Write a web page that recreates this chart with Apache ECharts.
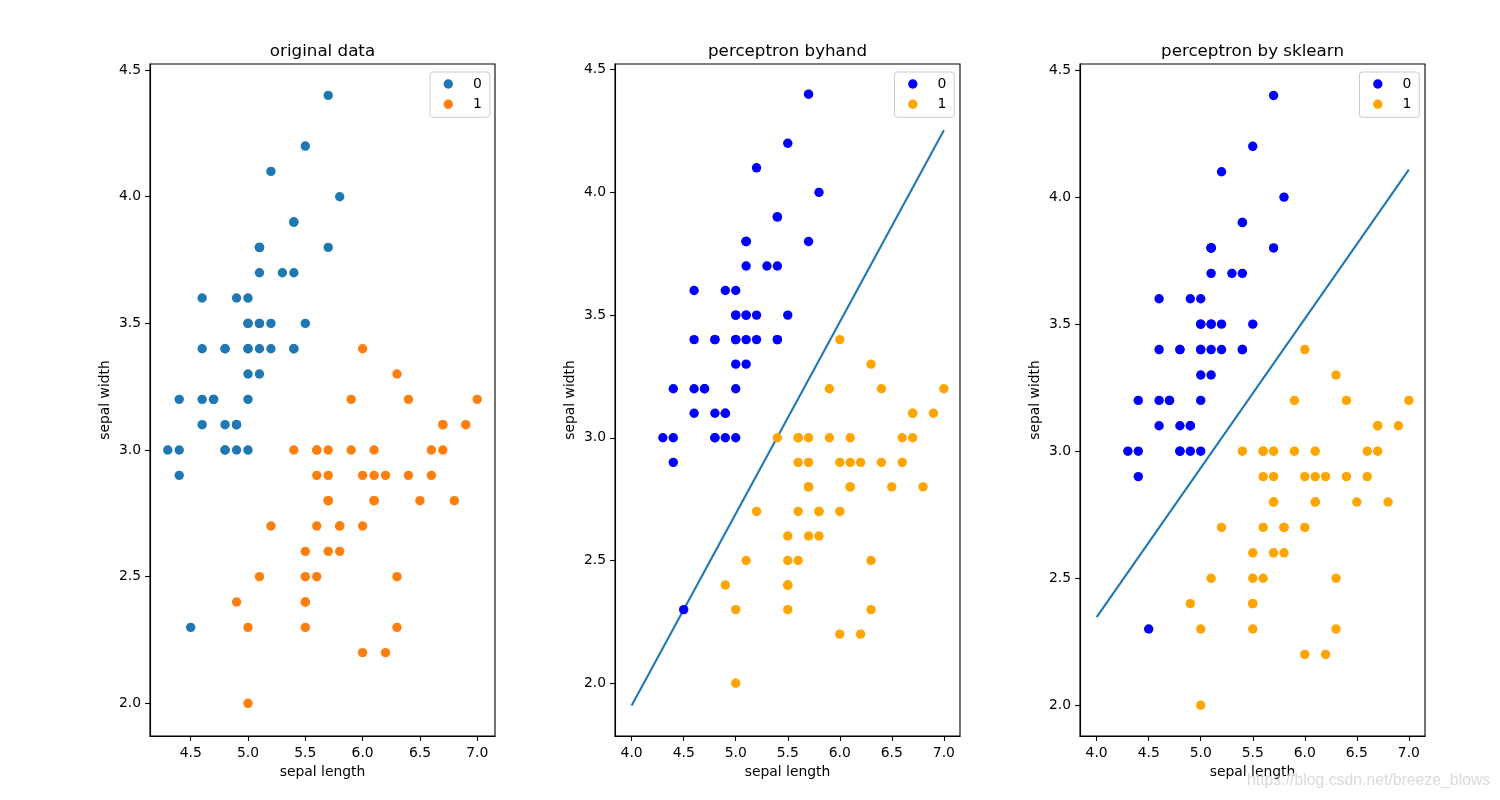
<!DOCTYPE html>
<html>
<head>
<meta charset="utf-8">
<script src="https://cdn.jsdelivr.net/npm/echarts@6.0.0/dist/echarts.min.js"></script>
<style>
html,body{margin:0;padding:0;background:#fff;}
#chart{width:1500px;height:800px;}
</style>
</head>
<body>
<div id="chart"></div>
<script>
// Iris: setosa (label 0) and versicolor (label 1), sepal length / sepal width
const setosaLength = [5.1,4.9,4.7,4.6,5.0,5.4,4.6,5.0,4.4,4.9,5.4,4.8,4.8,4.3,5.8,5.7,5.4,5.1,5.7,5.1,5.4,5.1,4.6,5.1,4.8,5.0,5.0,5.2,5.2,4.7,4.8,5.4,5.2,5.5,4.9,5.0,5.5,4.9,4.4,5.1,5.0,4.5,4.4,5.0,5.1,4.8,5.1,4.6,5.3,5.0];
const setosaWidth  = [3.5,3.0,3.2,3.1,3.6,3.9,3.4,3.4,2.9,3.1,3.7,3.4,3.0,3.0,4.0,4.4,3.9,3.5,3.8,3.8,3.4,3.7,3.6,3.3,3.4,3.0,3.4,3.5,3.4,3.2,3.1,3.4,4.1,4.2,3.1,3.2,3.5,3.6,3.0,3.4,3.5,2.3,3.2,3.5,3.8,3.0,3.8,3.2,3.7,3.3];
const versicolorLength = [7.0,6.4,6.9,5.5,6.5,5.7,6.3,4.9,6.6,5.2,5.0,5.9,6.0,6.1,5.6,6.7,5.6,5.8,6.2,5.6,5.9,6.1,6.3,6.1,6.4,6.6,6.8,6.7,6.0,5.7,5.5,5.5,5.8,6.0,5.4,6.0,6.7,6.3,5.6,5.5,5.5,6.1,5.8,5.0,5.6,5.7,5.7,6.2,5.1,5.7];
const versicolorWidth  = [3.2,3.2,3.1,2.3,2.8,2.8,3.3,2.4,2.9,2.7,2.0,3.0,2.2,2.9,2.9,3.1,3.0,2.7,2.2,2.5,3.2,2.8,2.5,2.8,2.9,3.0,2.8,3.0,2.9,2.6,2.4,2.4,2.7,2.7,3.0,3.4,3.1,2.3,3.0,2.5,2.6,3.0,2.6,2.3,2.7,3.0,2.9,2.9,2.5,2.8];

// separating lines
const lineX = [4.0, 7.0];
const handLineY = [1.909, 4.253];
const sklearnLineY = [2.347, 4.108];

// tick labels
const xTicksOriginal = [4.5, 5.0, 5.5, 6.0, 6.5, 7.0];
const xTicksPerceptron = [4.0, 4.5, 5.0, 5.5, 6.0, 6.5, 7.0];
const yTicks = [2.0, 2.5, 3.0, 3.5, 4.0, 4.5];

const titles = ['original data', 'perceptron byhand', 'perceptron by sklearn'];
const classLabels = ['0', '1'];

function zip(a, b) { return a.map((v, i) => [v, b[i]]); }

const FONT = 'DejaVu Sans';
const FS = 13.9;
const gridLefts = [150, 615, 1080];
const gridTop = 64, gridW = 345, gridH = 672;

function xAxis(gi, min, max, ticks) {
  return {
    type: 'value', gridIndex: gi, min: min, max: max,
    name: 'sepal length', nameLocation: 'middle', nameGap: 28,
    nameTextStyle: {fontFamily: FONT, fontSize: FS, color: '#000'},
    splitLine: {show: false},
    axisLine: {show: true, onZero: false, lineStyle: {color: '#000', width: 1.1}},
    axisTick: {show: true, length: 4.9, customValues: ticks, lineStyle: {color: '#000', width: 1.1}},
    axisLabel: {customValues: ticks, margin: 10, fontFamily: FONT, fontSize: FS, color: '#000',
      formatter: v => Number(v).toFixed(1)}
  };
}
function yAxis(gi, min, max, ticks) {
  return {
    type: 'value', gridIndex: gi, min: min, max: max,
    name: 'sepal width', nameLocation: 'middle', nameGap: 38, nameRotate: 90,
    nameTextStyle: {fontFamily: FONT, fontSize: FS, color: '#000'},
    splitLine: {show: false},
    axisLine: {show: true, onZero: false, lineStyle: {color: '#000', width: 1.1}},
    axisTick: {show: true, length: 4.9, customValues: ticks, lineStyle: {color: '#000', width: 1.1}},
    axisLabel: {customValues: ticks, margin: 9, fontFamily: FONT, fontSize: FS, color: '#000',
      formatter: v => Number(v).toFixed(1)}
  };
}

const prefixes = ['o', 'h', 's'];
const colors = [['#1f77b4', '#ff7f0e'], ['#0000ff', '#ffa500'], ['#0000ff', '#ffa500']];
const SYM = 9.4;

const series = [];
for (let g = 0; g < 3; g++) {
  series.push({
    type: 'scatter', name: prefixes[g] + classLabels[0], xAxisIndex: g, yAxisIndex: g,
    data: zip(setosaLength, setosaWidth), symbol: 'circle', symbolSize: SYM,
    itemStyle: {color: colors[g][0], opacity: 1}, emphasis: {disabled: true}, z: 3
  });
  series.push({
    type: 'scatter', name: prefixes[g] + classLabels[1], xAxisIndex: g, yAxisIndex: g,
    data: zip(versicolorLength, versicolorWidth), symbol: 'circle', symbolSize: SYM,
    itemStyle: {color: colors[g][1], opacity: 1}, emphasis: {disabled: true}, z: 3
  });
}
series.push({
  type: 'line', name: 'handLine', xAxisIndex: 1, yAxisIndex: 1,
  data: zip(lineX, handLineY), showSymbol: false, symbol: 'none',
  lineStyle: {color: '#1f77b4', width: 2.08}, emphasis: {disabled: true}, z: 2
});
series.push({
  type: 'line', name: 'sklearnLine', xAxisIndex: 2, yAxisIndex: 2,
  data: zip(lineX, sklearnLineY), showSymbol: false, symbol: 'none',
  lineStyle: {color: '#1f77b4', width: 2.08}, emphasis: {disabled: true}, z: 2
});

const legendLefts = [430, 894.5, 1359.5];

const option = {
  animation: false,
  backgroundColor: '#fff',
  title: titles.map((t, i) => ({
    text: t, left: gridLefts[i] + gridW / 2, top: 43, textAlign: 'center', padding: 0,
    textStyle: {fontFamily: FONT, fontSize: 16.7, fontWeight: 'normal', color: '#000'}
  })),
  grid: gridLefts.map(l => ({
    left: l, top: gridTop, width: gridW, height: gridH, show: true,
    borderColor: '#000', borderWidth: 1.1, backgroundColor: '#fff', containLabel: false
  })),
  xAxis: [
    xAxis(0, 4.145, 7.155, xTicksOriginal),
    xAxis(1, 3.84, 7.155, xTicksPerceptron),
    xAxis(2, 3.84, 7.155, xTicksPerceptron)
  ],
  yAxis: [
    yAxis(0, 1.871, 4.524, yTicks),
    yAxis(1, 1.785, 4.523, yTicks),
    yAxis(2, 1.879, 4.524, yTicks)
  ],
  legend: prefixes.map((p, i) => ({
    data: classLabels.map(c => p + c),
    formatter: name => name.slice(1),
    orient: 'vertical', left: legendLefts[i], top: 72,
    icon: 'circle', itemWidth: SYM, itemHeight: SYM, itemGap: 6.3,
    padding: [5, 8, 6, 13.6],
    backgroundColor: 'rgba(255,255,255,0.8)', borderColor: '#cccccc', borderWidth: 1, borderRadius: 3,
    textStyle: {fontFamily: FONT, fontSize: FS, color: '#000', padding: [0, 0, 0, 15]},
    selectedMode: false
  })),
  graphic: [{
    type: 'text', left: 1247, top: 773,
    style: {text: 'https://blog.csdn.net/breeze_blows', fontFamily: 'Liberation Sans', fontSize: 15.8, fill: '#dadada'},
    z: 100
  }],
  series: series
};

const chart = echarts.init(document.getElementById('chart'), null, {renderer: 'canvas'});
chart.setOption(option);
</script>
</body>
</html>
